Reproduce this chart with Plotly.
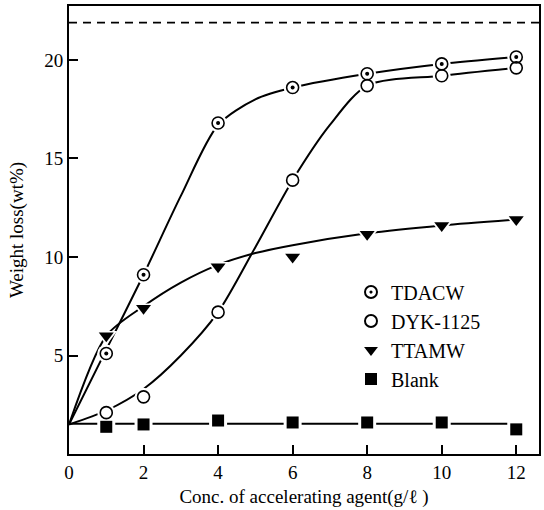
import plotly.graph_objects as go

# ---- measured data points ----
conc = [1, 2, 4, 6, 8, 10, 12]
tdacw = [5.1, 9.1, 16.8, 18.6, 19.3, 19.8, 20.15]
dyk = [2.1, 2.9, 7.2, 13.9, 18.7, 19.2, 19.6]
ttamw = [6.0, 7.4, 9.5, 10.0, 11.15, 11.6, 11.9]
blank = [1.38, 1.5, 1.7, 1.6, 1.6, 1.6, 1.25]

# ---- hand-drawn fitted curves ----
tdacw_fit_x = [0, 1, 2, 3, 4, 5, 6, 8, 10, 12]
tdacw_fit_y = [1.5, 5.3, 9.1, 13.1, 16.7, 18.0, 18.6, 19.3, 19.8, 20.15]
dyk_fit_x = [0, 1, 2, 3, 4, 5, 6, 7, 8, 10, 12]
dyk_fit_y = [1.5, 2.2, 3.3, 5.0, 7.2, 10.5, 13.9, 16.7, 18.7, 19.2, 19.6]
ttamw_fit_x = [0, 1, 2, 3, 4, 5, 6, 8, 10, 12]
ttamw_fit_y = [1.5, 6.0, 7.5, 8.7, 9.6, 10.2, 10.6, 11.2, 11.6, 11.9]
blank_fit_x = [0, 12]
blank_fit_y = [1.53, 1.53]

theory_loss = 21.9
x_range = [0, 12.61]
y_range = [0, 22.74]

FONT = "Liberation Serif"
fig = go.Figure()

# curves
for fx, fy in [(tdacw_fit_x, tdacw_fit_y), (dyk_fit_x, dyk_fit_y),
               (ttamw_fit_x, ttamw_fit_y), (blank_fit_x, blank_fit_y)]:
    fig.add_trace(go.Scatter(x=fx, y=fy, mode="lines",
                             line=dict(color="black", width=2, shape="spline", smoothing=0.8),
                             showlegend=False, hoverinfo="skip"))

# dashed reference line
fig.add_trace(go.Scatter(x=x_range, y=[theory_loss, theory_loss], mode="lines",
                         line=dict(color="black", width=1.8, dash="8px,6px"),
                         showlegend=False, hoverinfo="skip"))

series = [
    ("TDACW", tdacw, "circle", "circle-open-dot", 12),
    ("DYK-1125", dyk, "circle", "circle-open", 12),
    ("TTAMW", ttamw, "triangle-down", "triangle-down", 13),
    ("Blank", blank, "square", "square", 12),
]

# white halos to create gaps in the curves around markers
for name, ys, halo_sym, sym, sz in series:
    fig.add_trace(go.Scatter(x=conc, y=ys, mode="markers",
                             marker=dict(symbol=halo_sym, size=sz + 6, color="white",
                                         line=dict(width=0)),
                             showlegend=False, hoverinfo="skip"))

# enlarged centre dot for TDACW
fig.add_trace(go.Scatter(x=conc, y=tdacw, mode="markers",
                         marker=dict(symbol="circle", size=4, color="black", line=dict(width=0)),
                         showlegend=False, hoverinfo="skip"))

for name, ys, halo_sym, sym, sz in series:
    if sym.endswith("open") or sym.endswith("open-dot"):
        marker = dict(symbol=sym, size=sz, color="black", line=dict(width=1.6, color="black"))
    else:
        marker = dict(symbol=sym, size=sz, color="black", line=dict(width=0))
    fig.add_trace(go.Scatter(x=conc, y=ys, mode="markers", name=name, marker=marker))

fig.update_layout(
    width=544, height=510,
    margin=dict(l=69, r=3, t=6, b=56),
    paper_bgcolor="white", plot_bgcolor="white",
    font=dict(family=FONT, size=19, color="black"),
    showlegend=True,
    legend=dict(x=0.6, y=0.405, xanchor="left", yanchor="top",
                bgcolor="rgba(0,0,0,0)",
                font=dict(family="Liberation Serif", size=20, color="black"),
                itemsizing="constant", tracegroupgap=0),
)
fig.update_xaxes(range=x_range, tickvals=[0, 2, 4, 6, 8, 10, 12],
                 ticks="inside", ticklen=9, tickwidth=1.5, tickcolor="black",
                 tickfont=dict(family=FONT, size=19),
                 showline=True, linecolor="black", linewidth=2, mirror=True,
                 showgrid=False, zeroline=False,
                 title=dict(text="Conc. of accelerating agent(g/ℓ )", standoff=8,
                            font=dict(family=FONT, size=19)))
fig.update_yaxes(range=y_range, tickvals=[5, 10, 15, 20],
                 ticks="inside", ticklen=9, tickwidth=1.5, tickcolor="black",
                 tickfont=dict(family=FONT, size=19),
                 showline=True, linecolor="black", linewidth=2, mirror=True,
                 showgrid=False, zeroline=False,
                 title=dict(text="Weight loss(wt%)", standoff=16,
                            font=dict(family=FONT, size=19)))

fig.write_html("out.html")
